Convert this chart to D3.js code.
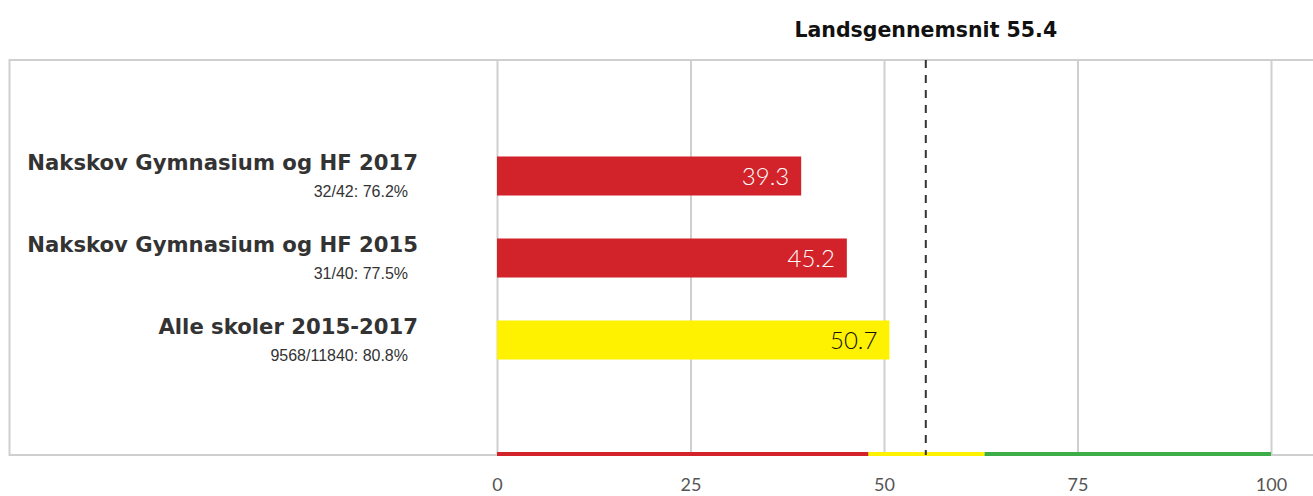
<!DOCTYPE html>
<html>
<head>
<meta charset="utf-8">
<script src="https://cdn.jsdelivr.net/npm/d3@7"></script>
<style>
  body { margin: 0; background: #fff; }
  svg { display: block; }
</style>
</head>
<body>
<svg id="chart" width="1313" height="496"></svg>
<script>
// data
var names = ["Nakskov Gymnasium og HF 2017", "Nakskov Gymnasium og HF 2015", "Alle skoler 2015-2017"];
var subLabels = ["32/42: 76.2%", "31/40: 77.5%", "9568/11840: 80.8%"];
var values = [39.3, 45.2, 50.7];
var barColors = ["#d2232a", "#d2232a", "#fff200"];
var labelColors = ["#fff", "#fff", "#111"];
var ticks = [0, 25, 50, 75, 100];
var bandStops = [0, 48, 63, 100];
var bandColors = ["#d2232a", "#fff200", "#3dad48"];
var average = 55.4;
var averageLabel = "Landsgennemsnit 55.4";

var svg = d3.select("#chart");
var top_y = 60, bottom_y = 455;

var x = d3.scaleLinear().domain([0, 100]).range([497, 1271]);
var y = d3.scaleBand().domain(names).range([135, 381]).paddingInner(0.524).paddingOuter(0.262);

// frame
svg.append("rect")
  .attr("x", 9.5).attr("y", top_y)
  .attr("width", 1330).attr("height", bottom_y - top_y)
  .attr("fill", "none").attr("stroke", "#cfcfcf").attr("stroke-width", 2);

// grid
var grid = svg.append("g")
  .attr("transform", "translate(0," + bottom_y + ")")
  .call(d3.axisBottom(x).tickValues(ticks).tickSize(-(bottom_y - top_y)).tickFormat(""));
grid.select(".domain").remove();
grid.selectAll("line").attr("stroke", "#cfcfcf").attr("stroke-width", 2);

// tick labels
var axis = svg.append("g")
  .attr("transform", "translate(0," + 475 + ")")
  .call(d3.axisBottom(x).tickValues(ticks).tickSize(0));
axis.select(".domain").remove();
axis.selectAll("text")
  .attr("font-family", "Lato, sans-serif")
  .attr("font-size", 18)
  .attr("fill", "#555");

// bars
svg.selectAll(".bar")
  .data(values)
  .enter().append("rect")
  .attr("class", "bar")
  .attr("x", x(0))
  .attr("y", function(d, i) { return y(names[i]); })
  .attr("width", function(d) { return x(d) - x(0); })
  .attr("height", y.bandwidth())
  .attr("fill", function(d, i) { return barColors[i]; });

svg.selectAll(".val")
  .data(values)
  .enter().append("text")
  .attr("class", "val")
  .attr("x", function(d) { return x(d) - 12; })
  .attr("y", function(d, i) { return y(names[i]) + y.bandwidth() / 2 + 8.5; })
  .attr("text-anchor", "end")
  .attr("font-family", "Lato, sans-serif")
  .attr("font-weight", 300)
  .attr("font-size", 24)
  .attr("fill", function(d, i) { return labelColors[i]; })
  .text(function(d) { return d.toFixed(1); });

// category labels
svg.selectAll(".name")
  .data(names)
  .enter().append("text")
  .attr("class", "name")
  .attr("x", 418)
  .attr("y", function(d) { return y(d) + 14; })
  .attr("text-anchor", "end")
  .attr("font-family", "'DejaVu Sans', sans-serif")
  .attr("font-weight", "bold")
  .attr("font-size", 21.2)
  .attr("fill", "#333")
  .text(function(d) { return d; });

svg.selectAll(".sub")
  .data(subLabels)
  .enter().append("text")
  .attr("class", "sub")
  .attr("x", 408)
  .attr("y", function(d, i) { return y(names[i]) + 41; })
  .attr("text-anchor", "end")
  .attr("font-family", "'Liberation Sans', Arial, sans-serif")
  .attr("font-size", 16)
  .attr("fill", "#333")
  .text(function(d) { return d; });

// colour bands on the bottom edge
svg.selectAll(".band")
  .data(bandColors)
  .enter().append("rect")
  .attr("class", "band")
  .attr("x", function(d, i) { return x(bandStops[i]); })
  .attr("y", bottom_y - 3)
  .attr("width", function(d, i) { return x(bandStops[i + 1]) - x(bandStops[i]); })
  .attr("height", 4)
  .attr("fill", function(d) { return d; });

// average line
svg.append("line")
  .attr("x1", x(average)).attr("x2", x(average))
  .attr("y1", top_y).attr("y2", bottom_y)
  .attr("stroke", "#333").attr("stroke-width", 2)
  .attr("stroke-dasharray", "8,7");

svg.append("text")
  .attr("x", x(average))
  .attr("y", 37)
  .attr("text-anchor", "middle")
  .attr("font-family", "'DejaVu Sans', sans-serif")
  .attr("font-weight", "bold")
  .attr("font-size", 20.5)
  .attr("fill", "#111")
  .text(averageLabel);
</script>
</body>
</html>
